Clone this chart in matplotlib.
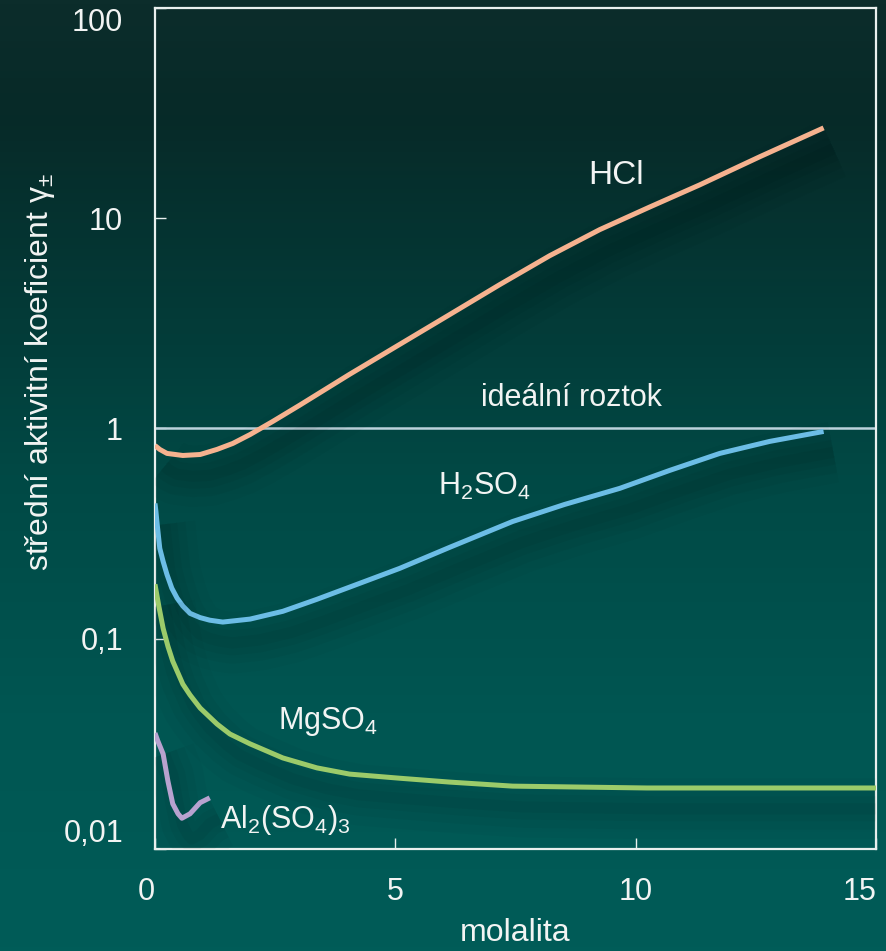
import numpy as np
import matplotlib
matplotlib.use("Agg")
import matplotlib.pyplot as plt
import matplotlib.patheffects as pe
from matplotlib.colors import LinearSegmentedColormap

plt.rcParams['font.family'] = ['Liberation Sans', 'DejaVu Sans']
plt.rcParams['mathtext.fontset'] = 'custom'
plt.rcParams['mathtext.rm'] = 'Liberation Sans'
plt.rcParams['mathtext.it'] = 'Liberation Sans:italic'
plt.rcParams['mathtext.sf'] = 'Liberation Sans'

# molalita (mol/kg) vs. stredni aktivitni koeficient
hcl_m = [0.0, 0.1, 0.25, 0.58, 0.94, 1.29, 1.62, 1.98, 2.45, 3.01, 4.05, 5.09, 6.13, 7.17,
         8.21, 9.25, 10.29, 11.33, 12.58, 13.91]
hcl_g = [0.83, 0.795, 0.761, 0.744, 0.752, 0.795, 0.849, 0.936, 1.08, 1.29, 1.81, 2.51, 3.48, 4.83,
         6.63, 8.82, 11.3, 14.4, 19.6, 26.9]

h2so4_m = [0.0, 0.02, 0.04, 0.10, 0.17, 0.25, 0.35, 0.46, 0.58, 0.73, 0.94, 1.14, 1.41,
           1.98, 2.66, 3.37, 4.05, 5.09, 6.13, 7.44, 8.52, 9.67, 10.71, 11.75, 12.79, 13.91]
h2so4_g = [0.44, 0.403, 0.361, 0.269, 0.233, 0.202, 0.174, 0.156, 0.143, 0.132, 0.126, 0.1225, 0.120,
           0.124, 0.135, 0.154, 0.176, 0.216, 0.272, 0.361, 0.435, 0.519, 0.632, 0.761, 0.868, 0.968]

mgso4_m = [0.0, 0.08, 0.17, 0.27, 0.37, 0.58, 0.73, 0.94, 1.29, 1.56, 1.98, 2.66, 3.37,
           4.05, 5.09, 6.13, 7.44, 10.23, 15.0]
mgso4_g = [0.1815, 0.143, 0.112, 0.092, 0.0782, 0.0608, 0.054, 0.0468, 0.0393, 0.0352, 0.0316,
           0.0271, 0.0243, 0.0227, 0.0217, 0.0208, 0.0199, 0.0195, 0.0195]

al_m = [0.0, 0.06, 0.17, 0.27, 0.37, 0.48, 0.56, 0.73, 0.94, 1.14]
al_g = [0.0356, 0.0326, 0.0283, 0.0210, 0.0164, 0.0147, 0.0140, 0.0147, 0.0166, 0.0175]

ideal = 1.0

yticks = [0.01, 0.1, 1, 10, 100]
ylabels = ['0,01', '0,1', '1', '10', '100']
xticks = [0, 5, 10, 15]

fig = plt.figure(figsize=(8.87, 9.51), dpi=100)

# background gradient, dark at the top, teal at the bottom
bg = fig.add_axes([0, 0, 1, 1], zorder=-1)
cmap = LinearSegmentedColormap.from_list('bg', [
    (0.0, '#0c2d2b'), (0.12, '#072a28'), (0.35, '#033c39'),
    (0.5, '#014945'), (0.75, '#005652'), (1.0, '#005c58')])
bg.imshow(np.linspace(0, 1, 256).reshape(-1, 1), aspect='auto', cmap=cmap,
          extent=[0, 1, 0, 1], origin='upper')
bg.set_axis_off()

ax = fig.add_axes([0.1747, 0.1073, 0.8129, 0.8843])
ax.set_facecolor('none')

# soft drop shadow under each curve
off = (7, -15)
shadow = [pe.SimpleLineShadow(offset=off, shadow_color='black', alpha=0.025, linewidth=44),
          pe.SimpleLineShadow(offset=off, shadow_color='black', alpha=0.03, linewidth=30),
          pe.SimpleLineShadow(offset=off, shadow_color='black', alpha=0.035, linewidth=18),
          pe.SimpleLineShadow(offset=off, shadow_color='black', alpha=0.04, linewidth=8),
          pe.Normal()]

style = dict(lw=3.6, solid_capstyle='butt', solid_joinstyle='round', path_effects=shadow, zorder=3)

ax.axhline(ideal, color='#bcd3dc', lw=1.8, zorder=2)
ax.plot(hcl_m, hcl_g, color='#f6b28f', **style)
ax.plot(h2so4_m, h2so4_g, color='#6cbde6', **style)
ax.plot(mgso4_m, mgso4_g, color='#9ccb6a', **style)
ax.plot(al_m, al_g, color='#b8a2cf', **style)

ax.set_yscale('log')
ax.set_xlim(0, 15)
ax.set_ylim(0.01, 100)

txt = '#f2f4f3'
ax.text(9.6, 16, 'HCl', color=txt, fontsize=24, ha='center', va='center')
ax.text(8.67, 1.39, 'ideální roztok', color=txt, fontsize=22, ha='center', va='center')
ax.text(6.86, 0.53, 'H$_2$SO$_4$', color=txt, fontsize=22, ha='center', va='center')
ax.text(3.6, 0.0405, 'MgSO$_4$', color=txt, fontsize=22, ha='center', va='center')
ax.text(2.72, 0.0138, 'Al$_2$(SO$_4$)$_3$', color=txt, fontsize=22, ha='center', va='center')

for s in ax.spines.values():
    s.set_color('#e9f0ee')
    s.set_linewidth(1.6)

ax.set_yticks(yticks)
ax.set_yticklabels(ylabels)
ax.yaxis.set_minor_locator(matplotlib.ticker.NullLocator())
ax.set_xticks(xticks)
ax.set_xticklabels([str(t) for t in xticks])
ax.tick_params(axis='both', direction='in', length=8, width=1, color='#e9f0ee',
               labelcolor=txt, labelsize=22)
ax.tick_params(axis='y', pad=23)
ax.tick_params(axis='x', pad=20)

# end labels sit inside the frame
yt = ax.yaxis.get_major_ticks()
yt[0].label1.set_va('bottom')
yt[-1].label1.set_va('top')
xt = ax.xaxis.get_major_ticks()
xt[0].label1.set_ha('right')
xt[-1].label1.set_ha('right')

ax.set_xlabel('molalita', color=txt, fontsize=23, labelpad=8)
fig.text(0.045, 0.609, 'střední aktivitní koeficient γ$_{\\pm}$', color=txt,
         fontsize=23, rotation=90, ha='center', va='center')

fig.savefig('out.png', dpi=100)
